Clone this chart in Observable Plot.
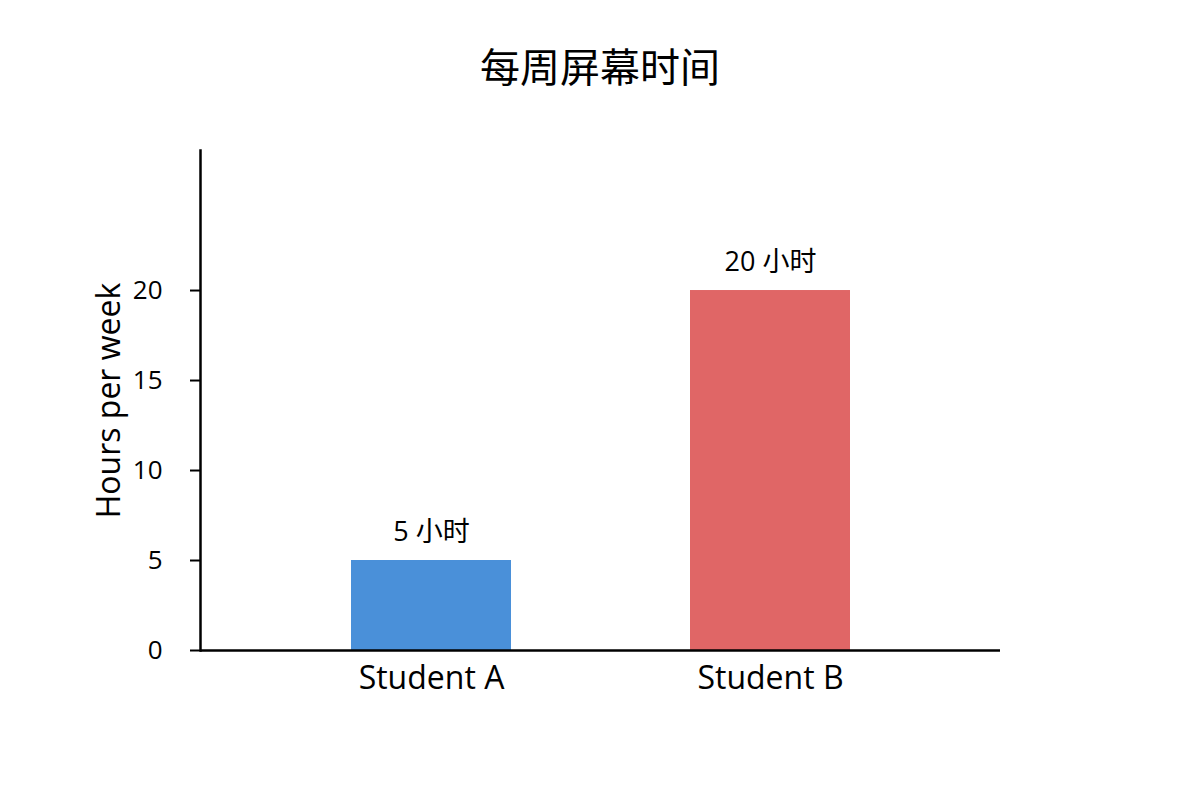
<!DOCTYPE html>
<html><head><meta charset="utf-8">
<script src="https://cdn.jsdelivr.net/npm/d3@7"></script>
<script src="https://cdn.jsdelivr.net/npm/@observablehq/plot@0.6"></script>
<style>
html,body{margin:0;padding:0;background:#fff;}
#wrap{position:relative;width:1200px;height:800px;font-family:"Open Sans","Noto Sans CJK SC",sans-serif;}
#title{position:absolute;left:0;top:36px;width:1200px;text-align:center;font-size:40px;color:#000;font-family:"Noto Sans CJK SC","Open Sans",sans-serif;}
</style></head>
<body><div id="wrap"><div id="title">每周屏幕时间</div><div id="chart"></div></div>
<script>
const students = ["Student A", "Student B"];
const hours = [5, 20];
const labels = ["5 小时", "20 小时"];
const colors = ["#4a90d9", "#e06666"];
const yTicks = [0, 5, 10, 15, 20];

const data = students.map((s, i) => ({student: s, hours: hours[i], label: labels[i], color: colors[i]}));

const chart = Plot.plot({
  width: 1200, height: 800,
  marginLeft: 200, marginRight: 200, marginTop: 150, marginBottom: 150,
  style: {fontFamily: '"Open Sans","Noto Sans CJK SC",sans-serif', background: "#fff", color: "#000"},
  x: {domain: students, paddingInner: 0.5294, paddingOuter: 0.4412, label: null},
  y: {domain: [0, 27.78], label: null},
  marks: [
    Plot.barY(data, {x: "student", y: "hours", fill: "color"}),
    Plot.text(data, {x: "student", y: "hours", text: "label", dy: -28, fontSize: 27, fill: "#000"}),
    Plot.axisY({ticks: yTicks, tickSize: 10, tickPadding: 28, fontSize: 26, strokeWidth: 2, label: null}),
    Plot.axisX({tickSize: 0, tickPadding: 16, fontSize: 32, label: null}),
    Plot.frame({anchor: "left", stroke: "#000", strokeWidth: 2.5}),
    Plot.ruleY([0], {stroke: "#000", strokeWidth: 2.5}),
    Plot.text(["Hours per week"], {frameAnchor: "left", dx: -91, rotate: -90, fontSize: 32, fill: "#000", textAnchor: "middle"})
  ]
});
document.getElementById("chart").appendChild(chart);
</script></body></html>
